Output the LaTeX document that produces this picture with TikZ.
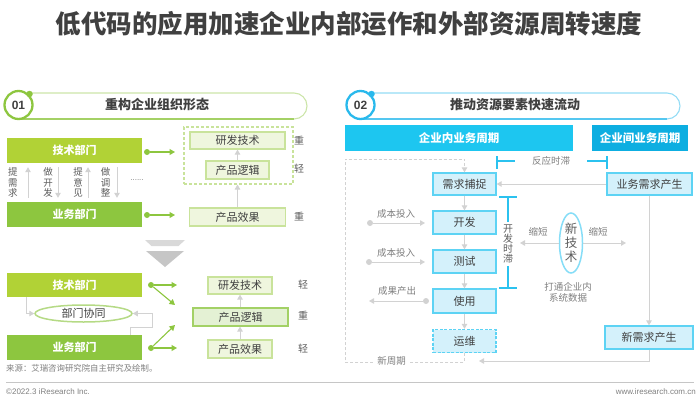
\documentclass[tikz,border=0pt]{standalone}
\usepackage{fontspec}
\setmainfont{Noto Sans CJK SC}
\newfontfamily\lat{Liberation Sans}
\usetikzlibrary{arrows.meta,shapes.geometric}
\definecolor{txt}{HTML}{404040}
\definecolor{lblgray}{HTML}{7F7F7F}
\definecolor{tgreen}{HTML}{8DC63F}
\definecolor{techfill}{HTML}{B1D236}
\definecolor{bizfill}{HTML}{8DC63F}
\definecolor{lgfill}{HTML}{EFF6DE}
\definecolor{lgstroke}{HTML}{C9E39B}
\definecolor{lgstrong}{HTML}{A3D166}
\definecolor{lgfill2}{HTML}{E4F1D4}
\definecolor{arrgray}{HTML}{D2D2D2}
\definecolor{hdrA}{HTML}{1DC6F0}
\definecolor{hdrB}{HTML}{0DAEE1}
\definecolor{cfill}{HTML}{D4F1FB}
\definecolor{cstroke}{HTML}{5DD3F4}
\definecolor{bblue}{HTML}{2BC2EF}
\definecolor{ellc}{HTML}{86DDF7}
\definecolor{tblue}{HTML}{29B9EC}
\newcommand\myfs[2]{\fontsize{#1}{#2}\selectfont}
\begin{document}
\begin{tikzpicture}[x=1pt,y=-1pt,
  gbox/.style={minimum width=135pt,minimum height=25pt,inner sep=0pt,text=white,font=\bfseries\myfs{11}{13}},
  lgbox/.style={draw=lgstroke,fill=lgfill,line width=1.2pt,inner sep=0pt,text=txt,font=\myfs{11}{13}},
  cbox/.style={draw=cstroke,fill=cfill,line width=1.3pt,minimum width=63pt,minimum height=23pt,inner sep=0pt,text=txt,font=\myfs{11}{13}},
  hbox/.style={minimum height=26pt,inner sep=0pt,text=white,font=\bfseries\myfs{11.5}{13}},
  garrow/.style={draw=arrgray,line width=1pt,-{Triangle[length=5pt,width=5.5pt]}},
  greenarr/.style={draw=tgreen,line width=1.1pt,-{Triangle[length=5.5pt,width=6pt]}},
  gdot/.style={circle,fill=tgreen,minimum size=6pt,inner sep=0pt},
  ggdot/.style={circle,fill=arrgray,minimum size=6pt,inner sep=0pt},
  lbl/.style={text=lblgray,font=\myfs{9.5}{11},inner sep=0pt},
  wlbl/.style={text=txt!85,font=\myfs{10}{12},inner sep=0pt},
  vtext/.style={text=txt!85,font=\myfs{9.5}{10.5},align=center,inner sep=0pt},
  bracket/.style={draw=bblue,line width=1.2pt},
  dashloop/.style={draw=arrgray,line width=1pt,dash pattern=on 3pt off 2pt},
]
\useasboundingbox (0,0) rectangle (700,404);

% title
\node[text=txt,font=\bfseries\myfs{25.5}{28}] (title) at (349,24) {低代码的应用加速企业内部运作和外部资源周转速度};

% ===== left header =====
\draw[draw=tgreen!45,line width=1.1pt,rounded corners=13pt] (16,93) rectangle (307,119);
\draw[draw=tgreen!80,line width=1.1pt] (20,119) -- (294,119);
\node[circle,draw=tgreen,line width=2.3pt,fill=white,minimum size=28pt,inner sep=0pt,text=txt,font=\lat\bfseries\myfs{12}{14}] (c1) at (18.5,105) {01};
\node[gdot,minimum size=6.5pt] (c1dot) at (29.5,94) {};
\node[text=txt,font=\bfseries\myfs{13}{15}] (h1) at (157,105) {重构企业组织形态};

% ===== left top =====
\node[gbox,fill=techfill] (tech1) at (74.5,150.5) {技术部门};
\node[gbox,fill=bizfill] (biz1) at (74.5,214.5) {业务部门};
\draw[garrow,shorten <=4pt,shorten >=4pt] ([xshift=-46.5pt]biz1.north) -- ([xshift=-46.5pt]tech1.south);
\draw[garrow,shorten <=4pt,shorten >=4pt] ([xshift=-16.5pt]tech1.south) -- ([xshift=-16.5pt]biz1.north);
\draw[garrow,shorten <=4pt,shorten >=4pt] ([xshift=13.5pt]biz1.north) -- ([xshift=13.5pt]tech1.south);
\draw[garrow,shorten <=4pt,shorten >=4pt] ([xshift=42.5pt]tech1.south) -- ([xshift=42.5pt]biz1.north);
\node[vtext] (v1) at (13,182.5) {提\\需\\求};
\node[vtext] (v2) at (48,182.5) {做\\开\\发};
\node[vtext] (v3) at (78,182.5) {提\\意\\见};
\node[vtext] (v4) at (105.5,182.5) {做\\调\\整};
\node[text=lblgray,font=\lat\myfs{8}{9},inner sep=0pt] (dots) at (137,180) {......};

\node[draw=lgstroke,line width=1.1pt,dash pattern=on 3pt off 2pt,minimum width=109pt,minimum height=57pt,inner sep=0pt] (dbox) at (238.5,155.5) {};
\node[lgbox,minimum width=95pt,minimum height=17pt] (yf1) at (237.5,140.5) {研发技术};
\node[lgbox,minimum width=63pt,minimum height=18pt] (lj1) at (237.5,170) {产品逻辑};
\node[lgbox,minimum width=96pt,minimum height=18pt] (xg1) at (237.5,217) {产品效果};
\draw[garrow] (lj1.north) -- (yf1.south);
\draw[garrow] (xg1.north) -- (xg1.north |- dbox.south);
\node[wlbl] (w1) at (299,141) {重};
\node[wlbl] (w2) at (299,169) {轻};
\node[wlbl] (w3) at (299,217) {重};

\node[gdot] (d1) at (147,152) {};
\coordinate (e1) at (175,152);
\draw[greenarr] (d1) -- (e1);
\node[gdot] (d2) at (147,215) {};
\coordinate (e2) at (175,215);
\draw[greenarr] (d2) -- (e2);

% chevrons
\fill[gray!30] (145,240) -- (185,240) -- (178.5,246) -- (151.5,246) -- cycle;
\fill[gray!45] (146,251) -- (184,251) -- (165,267) -- cycle;

% ===== left bottom =====
\node[gbox,fill=techfill,minimum height=24pt] (tech2) at (74.5,285) {技术部门};
\node[gbox,fill=bizfill] (biz2) at (74.5,347.5) {业务部门};
\node[ellipse,draw=lgstrong!80,line width=1.5pt,fill=white,minimum width=97pt,minimum height=17pt,inner sep=0pt,text=txt,font=\myfs{11}{13}] (xt) at (83.5,313.5) {部门协同};
\draw[garrow] ([xshift=-48.5pt]tech2.south) |- (xt.west);
\draw[garrow] ([xshift=55.5pt]biz2.north) -- ++(0,-7) -- ++(22,0) |- (xt.east);

\node[lgbox,minimum width=64pt,minimum height=17pt] (yf2) at (240,285.5) {研发技术};
\node[lgbox,draw=lgstrong,fill=lgfill2,minimum width=95pt,minimum height=18pt] (lj2) at (240.5,317) {产品逻辑};
\node[lgbox,minimum width=64pt,minimum height=18pt] (xg2) at (240,349) {产品效果};
\draw[garrow] (lj2.north -| yf2.south) -- (yf2.south);
\draw[garrow] (xg2.north) -- (xg2.north |- lj2.south);
\node[wlbl] (w4) at (303,285) {轻};
\node[wlbl] (w5) at (303,316) {重};
\node[wlbl] (w6) at (303,349) {轻};

\node[gdot] (d3) at (151,285) {};
\coordinate (e3a) at (177,285);
\coordinate (e3b) at (175,305);
\draw[greenarr] (d3) -- (e3a);
\draw[greenarr] (d3) -- (e3b);
\node[gdot] (d4) at (151,348) {};
\coordinate (e4a) at (177,348);
\coordinate (e4b) at (175,325);
\draw[greenarr] (d4) -- (e4a);
\draw[greenarr] (d4) -- (e4b);

% ===== right header =====
\draw[draw=tblue!50,line width=1.1pt,rounded corners=13pt] (358,93) rectangle (680,119);
\draw[draw=tblue!80,line width=1.1pt] (362,119) -- (667,119);
\node[circle,draw=tblue,line width=2.3pt,fill=white,minimum size=28pt,inner sep=0pt,text=txt,font=\lat\bfseries\myfs{12}{14}] (c2) at (360.5,105) {02};
\node[circle,fill=tblue,minimum size=6.5pt,inner sep=0pt] (c2dot) at (371.5,94) {};
\node[text=txt,font=\bfseries\myfs{13}{15}] (h2) at (515,105) {推动资源要素快速流动};

\node[hbox,fill=hdrA,minimum width=228pt] (hA) at (459,138) {企业内业务周期};
\node[hbox,fill=hdrB,minimum width=96pt] (hB) at (640,138) {企业间业务周期};

% ===== right flow =====
\node[cbox,minimum height=22pt] (xq) at (464.5,184) {需求捕捉};
\node[cbox] (kf) at (464.5,222.5) {开发};
\node[cbox] (cs) at (464.5,261.5) {测试};
\node[cbox,minimum height=24pt] (sy) at (464.5,301) {使用};
\node[cbox,dash pattern=on 3pt off 1.5pt] (yw) at (464.5,341) {运维};
\draw[garrow] (xq) -- (kf);
\draw[garrow] (kf) -- (cs);
\draw[garrow] (cs) -- (sy);
\draw[garrow] (sy) -- (yw);

\draw[dashloop,-{Triangle[length=5pt,width=5.5pt]}] (yw.south) -- (464.5,362) -- (345,362) -- (345,159) -- (464.5,159) -- (xq.north);
\node[lbl,fill=white,inner xsep=4pt,inner ysep=1pt] (xzq) at (391.5,361) {新周期};

% cost inputs
\node[ggdot] (p1) at (370,223) {};
\coordinate (p1e) at (425,223);
\draw[garrow] (p1) -- (p1e);
\node[lbl] (l1) at (396,213.5) {成本投入};
\node[ggdot] (p2) at (369,262) {};
\coordinate (p2e) at (425,262);
\draw[garrow] (p2) -- (p2e);
\node[lbl] (l2) at (396,252.5) {成本投入};
\node[ggdot] (p3) at (426,301) {};
\coordinate (p3e) at (369,301);
\draw[garrow] (p3) -- (p3e);
\node[lbl] (l3) at (397,291) {成果产出};

% reaction lag bracket
\draw[bracket] (497,156) -- (497,169);
\draw[bracket] (497,161) -- (515,161);
\draw[bracket] (587,161) -- (607,161);
\draw[bracket] (607,156) -- (607,169);
\node[lbl] (fy) at (551,161) {反应时滞};

% inter-enterprise
\node[cbox,minimum width=85pt,minimum height=22pt] (ywxq) at (649.5,184) {业务需求产生};
\node[cbox,minimum width=88pt] (xxq) at (649,337.5) {新需求产生};
\draw[garrow] (ywxq.west) -- (xq.east);
\draw[garrow] (ywxq.south -| xxq.north) -- (xxq.north);
\coordinate (nb) at (479,361);
\draw[garrow] (xxq.south) |- (nb);

% dev lag bracket
\draw[bracket] (499,197) -- (517,197);
\draw[bracket] (508,197) -- (508,288);
\draw[bracket] (499,288) -- (517,288);
\node[vtext,fill=white,text=txt!85,font=\myfs{10}{10.3},inner ysep=2pt] (kfsz) at (508,244) {开\\发\\时\\滞};

% new tech
\node[ellipse,draw=ellc,line width=1.5pt,fill=white,minimum width=23pt,minimum height=60pt,inner sep=0pt,align=center,text=txt!85,font=\myfs{12.5}{14}] (xjs) at (571,243) {新\\技\\术};
\coordinate (sl) at (520,243);
\coordinate (sr) at (626,243);
\draw[garrow] (xjs.west) -- (sl);
\draw[garrow] (xjs.east) -- (sr);
\node[lbl] (s1) at (538,232) {缩短};
\node[lbl] (s2) at (598,232) {缩短};
\node[lbl,align=center,font=\myfs{9.5}{11}] (dt) at (568,292.5) {打通企业内\\系统数据};

% ===== footer =====
\node[anchor=west,text=lblgray,font=\myfs{8.4}{10},inner sep=0pt] (src) at (6,368) {来源：艾瑞咨询研究院自主研究及绘制。};
\coordinate (fl) at (6,382);
\coordinate (fr) at (694,382);
\draw[draw=gray!45,line width=0.8pt] (fl) -- (fr);
\node[anchor=west,text=lblgray,font=\lat\myfs{8}{10},inner sep=0pt] (cp) at (6,392) {\textcopyright2022.3 iResearch Inc.};
\node[anchor=east,text=lblgray,font=\lat\myfs{8}{10},inner sep=0pt] (www) at (696,392) {www.iresearch.com.cn};
\end{tikzpicture}
\end{document}
